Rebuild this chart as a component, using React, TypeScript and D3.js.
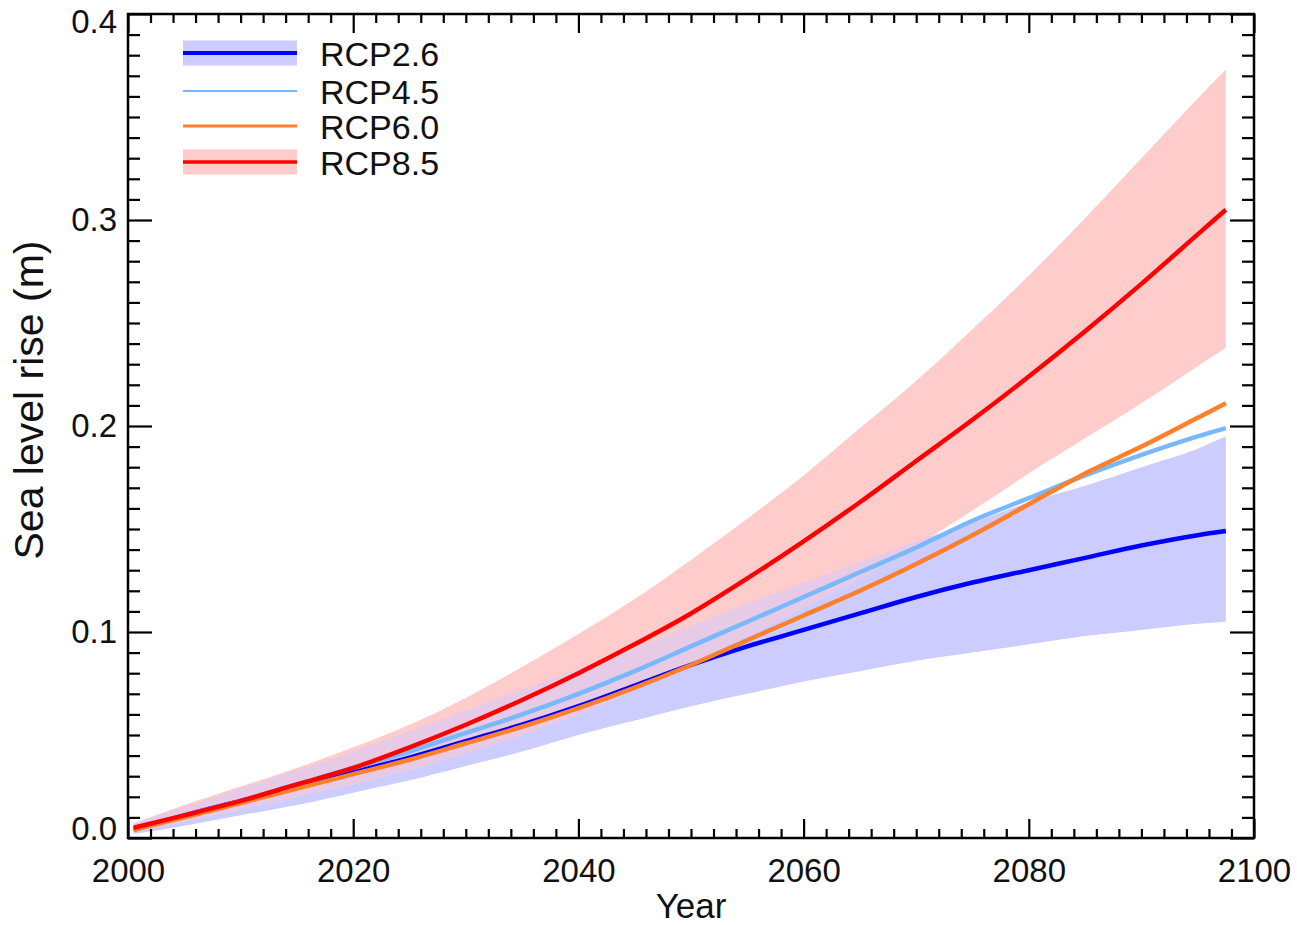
import React, { useEffect, useRef } from 'react';
import * as d3 from 'd3';

// sample years (annual means, first and last are half-year points)
const years = [2000.5, 2005, 2010, 2015, 2020, 2025, 2030, 2035, 2040, 2045, 2050, 2055, 2060, 2065, 2070, 2075, 2080, 2085, 2090, 2095, 2097.5];

const rcp26 = [0.004, 0.011, 0.018, 0.025, 0.032, 0.039, 0.047, 0.055, 0.064, 0.074, 0.084, 0.093, 0.101, 0.109, 0.117, 0.124, 0.130, 0.136, 0.142, 0.147, 0.149];
const rcp26Lo = [0.002, 0.006, 0.011, 0.016, 0.022, 0.028, 0.035, 0.042, 0.050, 0.057, 0.064, 0.070, 0.076, 0.081, 0.086, 0.090, 0.094, 0.098, 0.101, 0.104, 0.105];
const rcp26Hi = [0.007, 0.015, 0.024, 0.033, 0.042, 0.052, 0.062, 0.072, 0.082, 0.092, 0.103, 0.114, 0.124, 0.134, 0.144, 0.153, 0.163, 0.171, 0.180, 0.189, 0.195];
const rcp45 = [0.004, 0.011, 0.018, 0.026, 0.034, 0.042, 0.051, 0.060, 0.070, 0.081, 0.093, 0.105, 0.117, 0.129, 0.141, 0.154, 0.165, 0.176, 0.186, 0.195, 0.199];
const rcp60 = [0.004, 0.010, 0.017, 0.024, 0.031, 0.038, 0.046, 0.054, 0.063, 0.073, 0.084, 0.096, 0.108, 0.120, 0.133, 0.147, 0.162, 0.177, 0.190, 0.204, 0.211];
const rcp85 = [0.005, 0.011, 0.018, 0.026, 0.034, 0.044, 0.055, 0.067, 0.080, 0.094, 0.109, 0.126, 0.144, 0.163, 0.183, 0.203, 0.224, 0.246, 0.269, 0.293, 0.305];
const rcp85Lo = [0.003, 0.008, 0.014, 0.020, 0.026, 0.033, 0.041, 0.050, 0.060, 0.072, 0.085, 0.098, 0.112, 0.126, 0.142, 0.159, 0.177, 0.194, 0.211, 0.229, 0.238];
const rcp85Hi = [0.007, 0.016, 0.025, 0.034, 0.044, 0.055, 0.068, 0.083, 0.099, 0.116, 0.135, 0.155, 0.176, 0.199, 0.222, 0.247, 0.273, 0.301, 0.330, 0.359, 0.373];

const legendLabels = ['RCP2.6', 'RCP4.5', 'RCP6.0', 'RCP8.5'];
const xMajor = [2000, 2020, 2040, 2060, 2080, 2100];
const yMajor = [0, 0.1, 0.2, 0.3, 0.4];

const font = '"Liberation Sans", Arial, Helvetica, sans-serif';

const App = () => {
  const ref = useRef<SVGSVGElement>(null);

  useEffect(() => {
    const svg = d3.select(ref.current);
    svg.selectAll('*').remove();

    const left = 128, right = 1254, top = 14, bottom = 838;
    const x = d3.scaleLinear().domain([2000, 2100]).range([left, right]);
    const y = d3.scaleLinear().domain([0, 0.4]).range([bottom, top]);

    const pts = (vals) => years.map((yr, i) => ({ yr, v: vals[i] }));
    const band = (lo, hi) =>
      years.map((yr, i) => ({ yr, lo: lo[i], hi: hi[i] }));

    const area = d3
      .area<any>()
      .x((d) => x(d.yr))
      .y0((d) => y(d.lo))
      .y1((d) => y(d.hi))
      .curve(d3.curveMonotoneX);
    const line = d3
      .line<any>()
      .x((d) => x(d.yr))
      .y((d) => y(d.v))
      .curve(d3.curveMonotoneX);

    const blueBand = band(rcp26Lo, rcp26Hi);
    const redBand = band(rcp85Lo, rcp85Hi);

    svg
      .append('defs')
      .append('clipPath')
      .attr('id', 'redClip')
      .append('path')
      .attr('d', area(redBand));

    svg.append('path').attr('d', area(blueBand)).attr('fill', '#ccccff');
    svg.append('path').attr('d', area(redBand)).attr('fill', '#ffcccc');
    // overlap of both ranges
    svg
      .append('path')
      .attr('d', area(blueBand))
      .attr('fill', '#e6cae6')
      .attr('clip-path', 'url(#redClip)');

    const series = [
      { vals: rcp26, color: '#0000ff' },
      { vals: rcp45, color: '#78b8ff' },
      { vals: rcp60, color: '#ff7f2a' },
      { vals: rcp85, color: '#ff0000' },
    ];
    series.forEach((s) => {
      svg
        .append('path')
        .attr('d', line(pts(s.vals)))
        .attr('fill', 'none')
        .attr('stroke', s.color)
        .attr('stroke-width', 4.5)
        .attr('stroke-linejoin', 'round');
    });

    // axes, ticks point inwards on all four sides
    const xMinor = d3.range(2002, 2100, 2).filter((d) => d % 20 !== 0);
    const yMinor = d3.range(1, 40).filter((d) => d % 10 !== 0).map((d) => d / 100);
    const noLabel = () => '';
    const clean = (g) => {
      g.select('.domain').remove();
      g.selectAll('line').attr('stroke', '#000').attr('stroke-width', 2.2);
      g.selectAll('text')
        .attr('font-family', font)
        .attr('font-size', 33)
        .attr('fill', '#111');
    };

    svg.append('g').attr('transform', `translate(0,${bottom})`)
      .call(d3.axisBottom(x).tickValues(xMinor).tickSize(-9).tickFormat(noLabel)).call(clean);
    svg.append('g').attr('transform', `translate(0,${bottom})`)
      .call(d3.axisBottom(x).tickValues(xMajor).tickSize(-19).tickPadding(21).tickFormat(d3.format('d')))
      .call(clean);
    svg.append('g').attr('transform', `translate(0,${top})`)
      .call(d3.axisTop(x).tickValues(xMinor).tickSize(-9).tickFormat(noLabel)).call(clean);
    svg.append('g').attr('transform', `translate(0,${top})`)
      .call(d3.axisTop(x).tickValues(xMajor).tickSize(-19).tickFormat(noLabel)).call(clean);

    svg.append('g').attr('transform', `translate(${left},0)`)
      .call(d3.axisLeft(y).tickValues(yMinor).tickSize(-12).tickFormat(noLabel)).call(clean);
    const yAxis = svg.append('g').attr('transform', `translate(${left},0)`)
      .call(d3.axisLeft(y).tickValues(yMajor).tickSize(-24).tickPadding(11).tickFormat(d3.format('.1f')))
      .call(clean);
    // end labels are pulled inside the frame
    yAxis.selectAll('text').attr('dy', (d) => (d === 0.4 ? '0.57em' : d === 0 ? '0.03em' : '0.32em'));
    svg.append('g').attr('transform', `translate(${right},0)`)
      .call(d3.axisRight(y).tickValues(yMinor).tickSize(-12).tickFormat(noLabel)).call(clean);
    svg.append('g').attr('transform', `translate(${right},0)`)
      .call(d3.axisRight(y).tickValues(yMajor).tickSize(-24).tickFormat(noLabel)).call(clean);

    svg
      .append('rect')
      .attr('x', left)
      .attr('y', top)
      .attr('width', right - left)
      .attr('height', bottom - top)
      .attr('fill', 'none')
      .attr('stroke', '#000')
      .attr('stroke-width', 2.5);

    svg
      .append('text')
      .attr('x', (left + right) / 2)
      .attr('y', 918)
      .attr('text-anchor', 'middle')
      .attr('font-family', font)
      .attr('font-size', 35)
      .attr('fill', '#111')
      .text('Year');

    svg
      .append('text')
      .attr('transform', 'translate(43,400) rotate(-90)')
      .attr('text-anchor', 'middle')
      .attr('font-family', font)
      .attr('font-size', 41)
      .attr('fill', '#111')
      .text('Sea level rise (m)');

    // legend
    const legend = [
      { label: legendLabels[0], color: '#0000ff', width: 4, band: '#ccccff', rowY: 53 },
      { label: legendLabels[1], color: '#78b8ff', width: 2.2, band: null, rowY: 91 },
      { label: legendLabels[2], color: '#ff7f2a', width: 3.2, band: null, rowY: 126 },
      { label: legendLabels[3], color: '#ff0000', width: 3.5, band: '#ffcccc', rowY: 162 },
    ];
    const lg = svg.append('g');
    legend.forEach((l) => {
      if (l.band) {
        lg.append('rect')
          .attr('x', 183)
          .attr('y', l.rowY - 12.5)
          .attr('width', 114)
          .attr('height', 25)
          .attr('fill', l.band);
      }
      lg.append('line')
        .attr('x1', 183)
        .attr('x2', 297)
        .attr('y1', l.rowY)
        .attr('y2', l.rowY)
        .attr('stroke', l.color)
        .attr('stroke-width', l.width);
      lg.append('text')
        .attr('x', 320)
        .attr('y', l.rowY + 12.5)
        .attr('font-family', font)
        .attr('font-size', 34)
        .attr('fill', '#111')
        .text(l.label);
    });
  }, []);

  return (
    <svg
      ref={ref}
      width={1297}
      height={925}
      style={{ position: 'absolute', left: 0, top: 0, background: '#fff' }}
    />
  );
};

export default App;
